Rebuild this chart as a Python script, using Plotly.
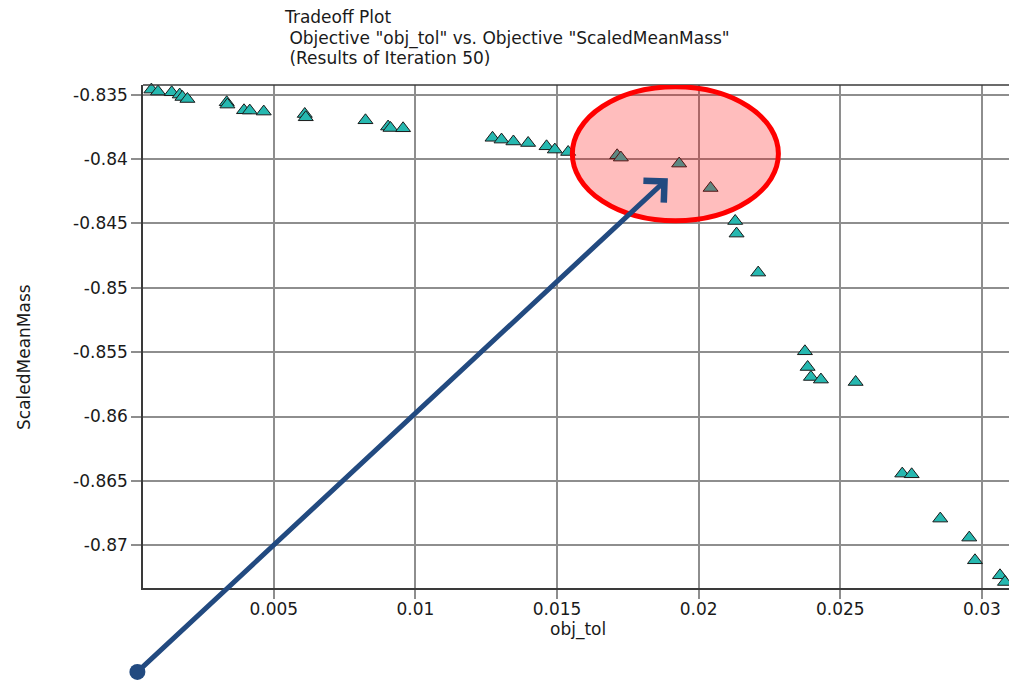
import plotly.graph_objects as go

# ---- data ----
obj_tol = [0.000681, 0.000915, 0.001398, 0.001681, 0.001776, 0.001953, 0.003340, 0.003365,
           0.003951, 0.004153, 0.004647, 0.006095, 0.006130, 0.008238, 0.009036, 0.009121,
           0.009566, 0.012722, 0.013040, 0.013460, 0.013980, 0.014630, 0.014922, 0.015392,
           0.017122, 0.017253, 0.019311, 0.020420, 0.021289, 0.021338, 0.022101, 0.023750,
           0.023846, 0.023962, 0.024315, 0.025540, 0.027186, 0.027518, 0.028528, 0.029551,
           0.029753, 0.030636, 0.030812]
scaled_mean_mass = [-0.834612, -0.834767, -0.834821, -0.835000, -0.835186, -0.835342, -0.835598,
                    -0.835777, -0.836219, -0.836243, -0.836320, -0.836507, -0.836763, -0.836996,
                    -0.837485, -0.837594, -0.837617, -0.838355, -0.838495, -0.838642, -0.838759,
                    -0.839015, -0.839271, -0.839458, -0.839714, -0.839893, -0.840358, -0.842253,
                    -0.844816, -0.845795, -0.848823, -0.854935, -0.856154, -0.856930, -0.857132,
                    -0.857319, -0.864433, -0.864487, -0.867927, -0.869403, -0.871166, -0.872331,
                    -0.872851]

x_tick_vals = [0.005, 0.01, 0.015, 0.02, 0.025, 0.03]
x_tick_text = ["0.005", "0.01", "0.015", "0.02", "0.025", "0.03"]
y_tick_vals = [-0.835, -0.84, -0.845, -0.85, -0.855, -0.86, -0.865, -0.87]
y_tick_text = ["-0.835", "-0.84", "-0.845", "-0.85", "-0.855", "-0.86", "-0.865", "-0.87"]

title_lines = ["Tradeoff Plot",
               ' Objective "obj_tol" vs. Objective "ScaledMeanMass"',
               " (Results of Iteration 50)"]
x_title = "obj_tol"
y_title = "ScaledMeanMass"

# highlighted region and arrow (data coordinates)
ellipse_x = [0.01554, 0.022814]
ellipse_y = [-0.8448, -0.834394]
arrow_tip = (0.018913, -0.8415)

FONT = "DejaVu Sans"
GRID = "#8e8e8e"

fig = go.Figure()
fig.add_trace(go.Scatter(
    x=obj_tol, y=scaled_mean_mass, mode="markers",
    marker=dict(symbol="triangle-up", size=13, color="#26b8b0",
                line=dict(color="#1a1a1a", width=1)),
    showlegend=False, cliponaxis=False,
))

fig.update_layout(
    width=1009, height=681,
    margin=dict(l=143, r=0, t=85, b=93, pad=0),
    paper_bgcolor="white", plot_bgcolor="white",
    font=dict(family=FONT, size=17, color="#1a1a1a"),
    xaxis=dict(range=[0.000385, 0.030954], tickvals=x_tick_vals, ticktext=x_tick_text,
               showgrid=True, gridcolor=GRID, gridwidth=1.5, zeroline=False,
               showline=True, linecolor="#3a3a3a", linewidth=1.5,
               ticks="outside", ticklen=9, tickcolor=GRID, tickwidth=1.5,
               ticklabelstandoff=-4,
               tickfont=dict(family=FONT, size=17, color="#1a1a1a")),
    yaxis=dict(range=[-0.873316, -0.834255], tickvals=y_tick_vals, ticktext=y_tick_text,
               showgrid=True, gridcolor=GRID, gridwidth=1.5, zeroline=False,
               showline=True, linecolor="#3a3a3a", linewidth=1.5,
               ticks="outside", ticklen=10, tickcolor=GRID, tickwidth=1.5,
               tickfont=dict(family=FONT, size=17, color="#1a1a1a")),
)

# top border
fig.add_shape(type="line", xref="paper", yref="paper", x0=0, x1=1, y0=1, y1=1,
              line=dict(color="#3a3a3a", width=1.5), layer="above")

# highlight ellipse
fig.add_shape(type="circle", xref="x", yref="y",
              x0=ellipse_x[0], x1=ellipse_x[1], y0=ellipse_y[0], y1=ellipse_y[1],
              line=dict(color="#ff0000", width=5), fillcolor="rgba(255,0,0,0.26)",
              layer="above")

# arrow
fig.add_annotation(x=arrow_tip[0], y=arrow_tip[1], xref="x", yref="y",
                   text="", showarrow=True, ax=-532, ay=495,
                   arrowcolor="#224a80", arrowwidth=5, arrowhead=4, arrowsize=1.15,
                   arrowside="end+start", startarrowhead=6, startarrowsize=0.8,
                   standoff=0, startstandoff=0)

# title lines
for i, (t, yy) in enumerate(zip(title_lines, [17, 38, 58])):
    fig.add_annotation(text=t, xref="paper", yref="paper",
                       x=(282 - 143) / (1009 - 143), xanchor="left",
                       y=1 + (85 - yy) / (681 - 85 - 93), yanchor="middle",
                       showarrow=False, font=dict(family=FONT, size=17, color="#1a1a1a"))

# axis titles
fig.add_annotation(text=x_title, xref="paper", yref="paper",
                   x=(578 - 143) / (1009 - 143), xanchor="center",
                   y=-(629 - 588) / (681 - 85 - 93), yanchor="middle",
                   showarrow=False, font=dict(family=FONT, size=17, color="#1a1a1a"))
fig.add_annotation(text=y_title, xref="paper", yref="paper",
                   x=-(143 - 24) / (1009 - 143), xanchor="center", y=1 - (357 - 85) / (681 - 85 - 93),
                   yanchor="middle", textangle=-90,
                   showarrow=False, font=dict(family=FONT, size=17, color="#1a1a1a"))

fig.write_html("out.html")
